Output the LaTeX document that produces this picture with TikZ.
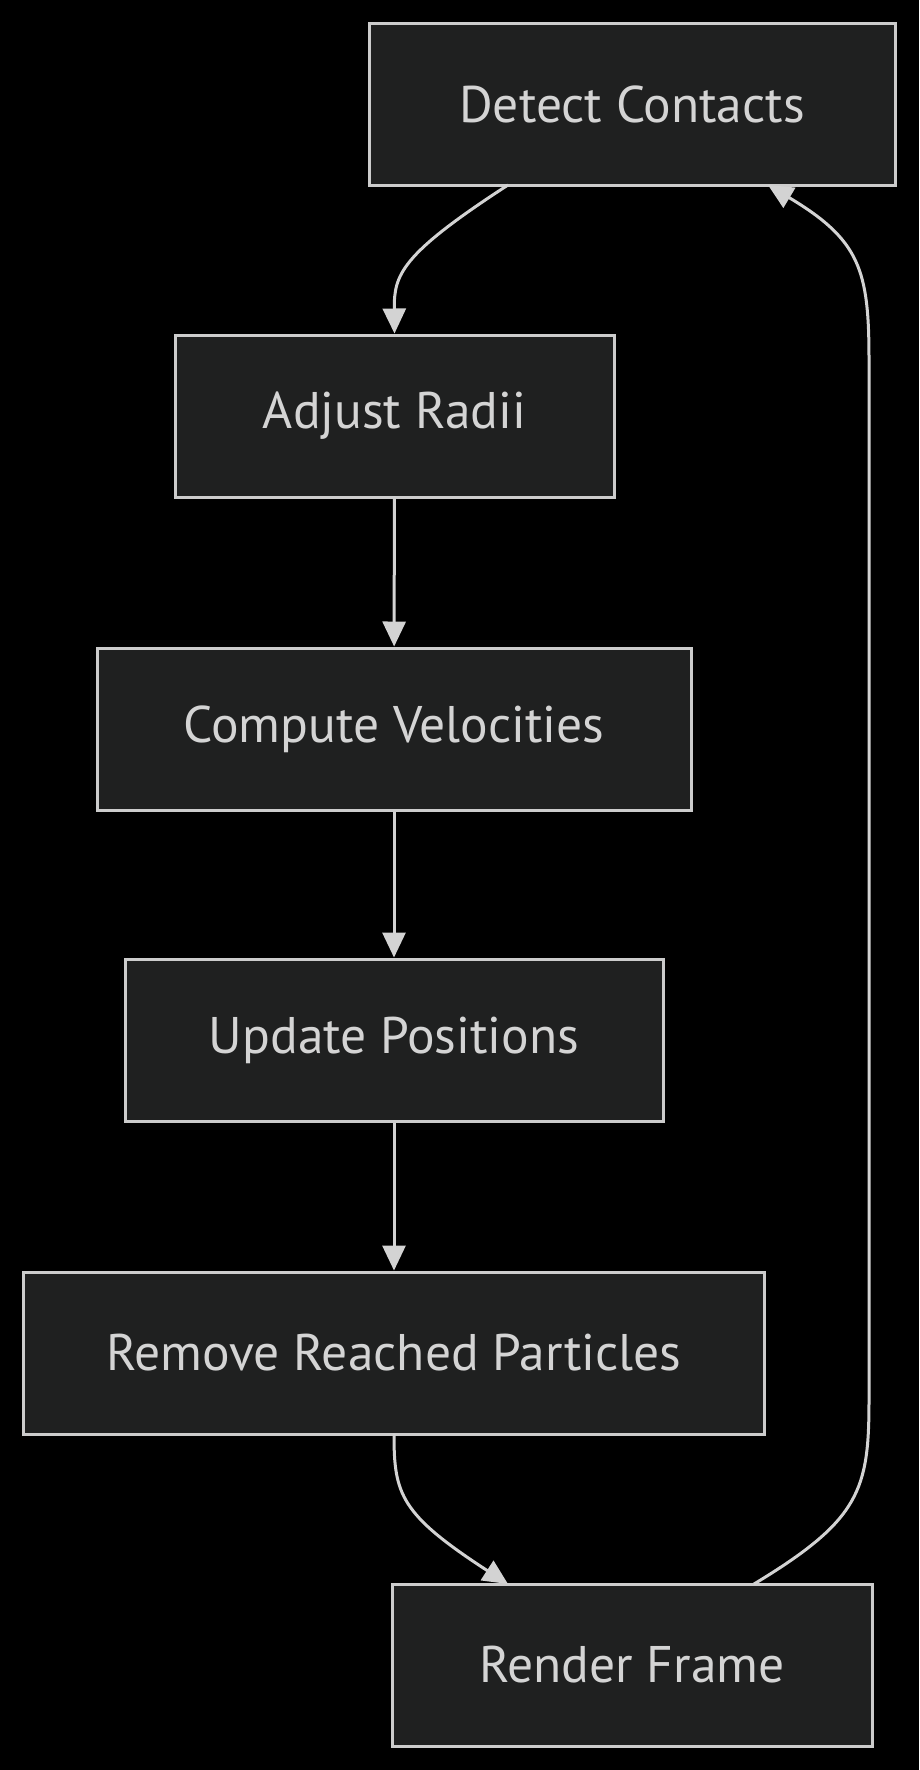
\documentclass[tikz,border=0pt]{standalone}
\usepackage{fontspec}
\setmainfont{PT Sans}
\usetikzlibrary{arrows.meta}
\definecolor{bg}{HTML}{000000}
\definecolor{boxfill}{HTML}{1F2020}
\definecolor{boxline}{HTML}{CCCCCC}
\definecolor{txt}{HTML}{D4D4D4}
\definecolor{edge}{HTML}{D3D3D3}
\tikzset{
  flowbox/.style={draw=boxline, fill=boxfill, line width=3pt, text=txt,
    minimum height=162pt, inner sep=0pt,
    font=\fontsize{51.5}{60}\selectfont},
  flowedge/.style={draw=edge, line width=3pt,
    -{Triangle[length=25pt,width=23pt]}},
}
\begin{document}
\begin{tikzpicture}[x=1pt,y=-1pt]
\fill[bg] (0,0) rectangle (919,1770);
\useasboundingbox (0,0) rectangle (919,1770);
\node[flowbox, minimum width=526pt] (dc) at (632,104) {Detect Contacts};
\node[flowbox, minimum width=439pt] (ar) at (394.5,416) {Adjust Radii};
\node[flowbox, minimum width=594pt] (cv) at (394,729) {Compute Velocities};
\node[flowbox, minimum width=538pt] (up) at (394,1040) {Update Positions};
\node[flowbox, minimum width=741pt] (rr) at (394,1353) {Remove Reached Particles};
\node[flowbox, minimum width=480pt] (rf) at (632,1665) {Render Frame};
\coordinate (dcout) at (508,185);
\coordinate (dcin) at (768,185);
\coordinate (rrout) at (394,1434);
\coordinate (rfin) at (508,1584);
\coordinate (rfout) at (754,1584);
\draw[flowedge] (dcout) .. controls (400,255) and (394,275) .. (ar.north);
\draw[flowedge] (ar) -- (cv);
\draw[flowedge] (cv) -- (up);
\draw[flowedge] (up) -- (rr);
\draw[flowedge] (rrout) .. controls (394,1494) and (400,1514) .. (rfin);
\draw[flowedge] (rfout) .. controls (860,1520) and (869,1490) .. (869,1400)
  -- (869,360) .. controls (869,270) and (860,240) .. (dcin);
\end{tikzpicture}
\end{document}
